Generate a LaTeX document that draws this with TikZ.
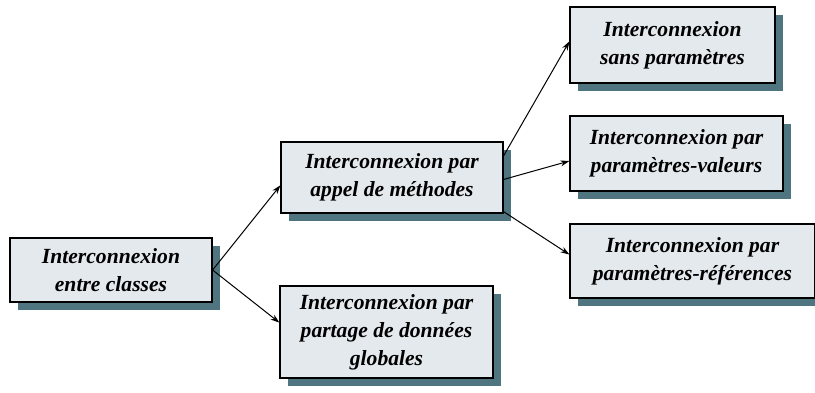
\documentclass[tikz,border=0pt]{standalone}
\usepackage{fontspec}
\setmainfont{Liberation Serif}
\usetikzlibrary{shadows,arrows.meta}
\definecolor{boxfill}{RGB}{227,233,237}
\definecolor{boxshadow}{RGB}{78,117,128}
\tikzset{
  kind/.style={draw,line width=1.2pt,fill=boxfill,align=center,inner sep=0pt,
    font=\bfseries\itshape\fontsize{21.6}{28}\selectfont,
    drop shadow={shadow xshift=8pt,shadow yshift=-8pt,fill=boxshadow,opacity=1}},
  link/.style={-{Stealth[length=9pt,width=6pt]},line width=1pt}
}
\begin{document}
\begin{tikzpicture}[x=1pt,y=-1pt]
  \useasboundingbox (0,0) rectangle (815,392);

  % Boxes
  \node[kind,minimum width=202pt,minimum height=64pt] (entre) at (111,270) {Interconnexion\\entre classes};
  \node[kind,minimum width=222pt,minimum height=71pt] (appel) at (392,177.5) {Interconnexion par\\appel de méthodes};
  \node[kind,minimum width=213pt,minimum height=92pt] (partage) at (386.5,332) {Interconnexion par\\partage de données\\globales};
  \node[kind,minimum width=205pt,minimum height=76pt] (sans) at (672.5,45) {Interconnexion\\sans paramètres};
  \node[kind,minimum width=213pt,minimum height=75pt] (valeurs) at (676.5,153.5) {Interconnexion par\\paramètres-valeurs};
  \node[kind,minimum width=245pt,minimum height=74pt] (refs) at (692.5,261) {Interconnexion par\\paramètres-références};

  % Arrows
  \draw[link] (entre.east) -- (appel.184);
  \draw[link] (entre.east) -- (partage.175);
  \draw[link] (appel.11) -- (sans.178);
  \draw[link] (appel.-1) -- (valeurs.184);
  \draw[link] (appel.-17) -- (refs.177);
\end{tikzpicture}
\end{document}
